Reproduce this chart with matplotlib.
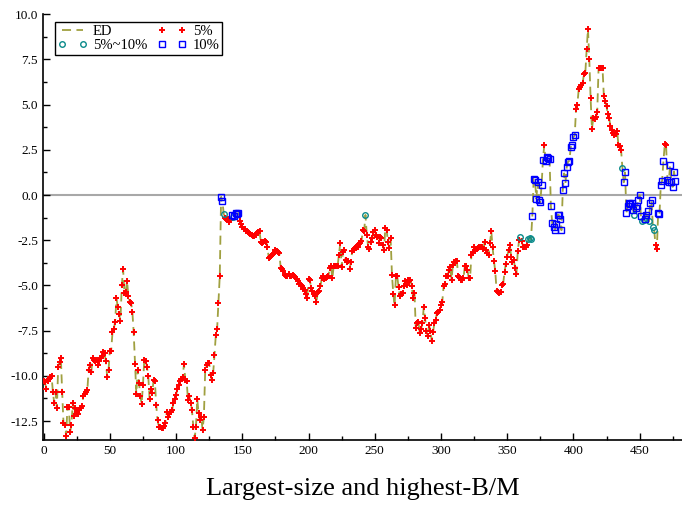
import numpy as np
import matplotlib
matplotlib.use('Agg')
import matplotlib.pyplot as plt
from matplotlib.ticker import MultipleLocator

plt.rcParams['font.family'] = ['Liberation Serif', 'DejaVu Serif']
plt.rcParams['axes.unicode_minus'] = False

# ED values, one per portfolio index
ed_0 = [-10.3, -10.35, -10.7, -10.3, -10.2, -10.05, -10.0, -10.9, -11.5, -10.9,
        -11.8, -9.5, -9.25, -9.0, -10.9, -12.6, -12.7, -13.3, -11.7, -11.7,
        -13.1, -12.7, -11.5, -12.2, -11.8, -12.0, -12.1, -11.9, -11.8, -11.65,
        -11.1, -11.0, -10.9, -10.8, -9.65, -9.4, -9.8, -9.0, -9.1, -9.15,
        -9.1, -9.4, -9.2, -9.0, -8.9, -8.7, -8.75, -9.2, -10.05, -9.7,
        -8.6, -8.6, -7.6, -7.4, -7.0, -5.7, -6.2, -6.6, -6.95, -5.0,
        -4.1, -5.4, -5.35, -4.75, -5.6, -5.9, -5.95, -6.45, -7.6, -9.35,
        -11.0, -9.65, -10.4, -11.1, -11.55, -10.5, -9.1, -9.15, -9.5, -10.0,
        -11.3]
ed_81 = [-10.75, -10.95, -10.25, -10.3, -11.6, -12.45, -12.8, -12.85, -12.9, -12.9,
         -12.75, -12.6, -12.0, -12.25, -12.1, -12.0, -11.9, -11.5, -11.3, -11.05,
         -10.7, -10.5, -10.3, -10.2, -10.05, -9.35, -10.25, -10.3, -11.35, -11.1,
         -11.5, -11.9, -12.8, -13.45, -12.85, -11.3, -12.05, -12.45, -12.25, -13.0,
         -12.25, -9.7, -9.4, -9.3, -9.3, -9.95, -10.25, -9.85, -8.85, -7.75,
         -7.4, -5.95, -4.45, -0.1, -0.35, -1.05, -1.25, -1.3, -1.35, -1.5,
         -1.4, -1.1, -1.2, -1.15, -1.0, -1.05, -1.0, -1.45, -1.6, -1.75,
         -1.9, -1.9, -2.0, -2.05, -2.1, -2.15, -2.2, -2.25, -2.25]
ed_160 = [-2.2, -2.1, -2.05, -2.0, -2.6, -2.65, -2.6, -2.55, -2.6, -2.85,
          -3.5, -3.45, -3.35, -3.25, -3.2, -3.05, -3.1, -3.15, -3.2, -4.05,
          -4.1, -4.2, -4.4, -4.45, -4.5, -4.35, -4.45, -4.5, -4.4, -4.5,
          -4.55, -4.65, -4.75, -4.9, -5.0, -5.05, -5.2, -5.25, -5.45, -5.7,
          -4.65, -4.7, -5.15, -5.3, -5.5, -5.6, -5.9, -5.35, -5.3, -5.05,
          -4.6, -4.5, -4.65, -4.6, -4.55, -4.5, -4.05, -3.95, -4.6, -3.95,
          -3.9, -3.95, -3.9, -3.3, -2.65, -4.0, -3.15, -3.05, -3.6, -3.7,
          -3.65, -4.1, -3.7, -3.1, -3.05, -2.95, -2.9, -2.85, -2.7, -2.65,
          -2.55, -1.95, -2.0, -1.1, -2.2, -2.85]
ed_246 = [-3.0, -2.6, -2.4, -2.05, -1.95, -2.2, -2.3, -2.65, -2.3, -2.4,
          -2.75, -3.05, -1.8, -1.95, -2.6, -2.95, -2.4, -4.4, -5.45, -6.1,
          -4.45, -4.5, -5.1, -5.6, -5.45, -5.4, -5.05, -4.75, -4.95, -4.7,
          -4.75, -4.7, -5.05, -5.7, -5.4, -7.35, -7.1, -7.0, -7.65, -7.4,
          -7.1, -6.2, -6.8, -7.5, -7.8, -7.2, -7.5, -8.05, -7.6, -7.1,
          -6.9, -6.5, -6.45, -6.35, -6.1, -5.9, -5.05, -4.9, -4.5, -4.5,
          -4.15, -4.0, -4.7, -3.85, -3.7, -3.65, -3.65, -4.45, -4.55, -4.7,
          -4.7, -4.6, -3.95, -3.9, -4.15, -4.6, -4.6, -3.3, -3.15, -2.9]
ed_326 = [-3.1, -3.0, -2.95, -2.85, -2.85, -2.9, -3.0, -2.6, -3.05, -3.2,
          -3.3, -2.65, -2.0, -2.9, -3.65, -4.2, -5.3, -5.35, -5.4, -5.35,
          -4.95, -4.9, -4.25, -3.8, -3.4, -3.05, -2.75, -3.4, -3.7, -3.6,
          -4.05, -4.35, -3.1, -2.5, -2.3, -2.55, -2.85, -2.9, -2.85, -2.75,
          -2.45, -2.4, -2.45, -1.15, 0.9, 0.85, -0.2, 0.7, -0.3, -0.4,
          0.55, 1.95, 2.75, 1.9, 2.1, 2.05, 2.0, -0.6, -1.55, -1.75,
          -1.95, -1.6, -1.1, -1.1, -1.35, -1.95, 0.3, 1.2, 0.65, 1.55,
          1.85, 1.9, 2.65, 2.75, 3.2, 3.3, 4.75, 5.0, 5.85, 5.95,
          6.1, 6.2, 6.7, 6.75, 8.05, 9.2]
ed_412 = [7.5, 5.35, 3.65, 4.25, 4.2, 4.3, 4.6, 7.0, 7.05, 7.05,
          7.0, 5.45, 5.2, 4.9, 4.5, 4.25, 3.8, 3.6, 3.45, 3.3,
          3.35, 3.55, 2.75, 2.7, 2.5, 1.5, 0.7, 1.25, -1.0, -0.6,
          -0.45, -0.5, -0.45, -0.8, -1.1, -0.7, -0.6, -0.3, 0.0, -1.15,
          -1.45, -1.4, -1.3, -1.1, -0.9, -1.45, -0.45, -0.3, -1.75, -1.95,
          -2.75, -3.0, -1.0, -1.05, 0.55, 0.8, 1.9, 2.8, 2.75, 0.85,
          0.7, 1.65, 0.7, 0.45, 1.3, 0.75]

# points marked as 5%~10% and 10%; every other point is 5%
mid_idx = [136, 143, 243, 360, 366, 367, 368, 437, 446, 452, 453, 457, 460, 461]
high_idx = [134, 135, 142, 144, 145, 146, 147,
            369, 370, 371, 372, 373, 374, 375, 376, 377,
            379, 380, 381, 382, 383, 384, 385, 386, 387, 388, 389, 390,
            391, 392, 393, 394, 395, 396, 397, 398, 399, 400, 401,
            438, 439, 440, 441, 442, 443, 444, 445,
            447, 448, 449, 450, 451, 454, 455, 456, 458, 459,
            464, 465, 466, 467, 468, 471, 472, 473, 474, 475, 476, 477]

ed = np.array(ed_0 + ed_81 + ed_160 + ed_246 + ed_326 + ed_412)
x = np.arange(len(ed))
low_mask = np.ones(len(ed), dtype=bool)
low_mask[mid_idx] = False
low_mask[high_idx] = False

fig = plt.figure(figsize=(6.82, 5.07), dpi=100)
ax = fig.add_axes([0.063, 0.132, 0.937, 0.840])

ax.axhline(0, color='#a8a8a8', lw=1.5, zorder=1)
h_ed, = ax.plot(x, ed, ls=(0, (5, 3)), color='#a0a040', lw=1.3, label='ED', zorder=2)
h_low, = ax.plot(x[low_mask], ed[low_mask], ls='none', marker='+', ms=5, mew=1.4,
                 color='red', label='5%', zorder=3)
h_mid, = ax.plot(x[mid_idx], ed[mid_idx], ls='none', marker='o', ms=4, mew=1.0,
                 mfc='none', mec='#0a8a8a', label='5%~10%', zorder=4)
h_high, = ax.plot(x[high_idx], ed[high_idx], ls='none', marker='s', ms=4, mew=1.0,
                  mfc='none', mec='blue', label='10%', zorder=4)

ax.set_xlim(-0.5, 482)
ax.set_ylim(-13.55, 10)
ax.xaxis.set_major_locator(MultipleLocator(50))
ax.xaxis.set_minor_locator(MultipleLocator(25))
ax.yaxis.set_major_locator(MultipleLocator(2.5))
ax.yaxis.set_minor_locator(MultipleLocator(1.25))
ax.yaxis.set_major_formatter(matplotlib.ticker.FormatStrFormatter('%.1f'))
ax.tick_params(which='major', direction='in', length=5, width=1, labelsize=9.5)
ax.tick_params(which='minor', direction='in', length=3, width=1)
for side in ['top', 'right']:
    ax.spines[side].set_visible(False)
for side in ['left', 'bottom']:
    ax.spines[side].set_linewidth(1.2)

ax.set_xlabel('Largest-size and highest-B/M', fontsize=19, labelpad=15)

leg = ax.legend(handles=[h_ed, h_mid, h_low, h_high], ncol=2, loc='upper left',
                bbox_to_anchor=(0.019, 0.981), borderaxespad=0, fontsize=10.5,
                numpoints=2, handlelength=2.0, columnspacing=0.7,
                handletextpad=0.4, borderpad=0.2, labelspacing=0.05,
                fancybox=False, framealpha=1)
leg.get_frame().set_edgecolor('black')
leg.get_frame().set_linewidth(1.0)

fig.savefig('out.png', dpi=100)
